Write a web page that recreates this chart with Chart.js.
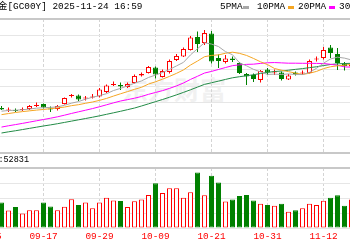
<!DOCTYPE html>
<html>
<head>
<meta charset="utf-8">
<script src="https://cdn.jsdelivr.net/npm/chart.js@4.4.0/dist/chart.umd.min.js"></script>
<style>
body { margin: 0; background: #fff; }
#wrap { position: relative; width: 350px; height: 250px; overflow: hidden; background: #fff; }
#wrap canvas { position: absolute; left: 0; }
.txt { position: absolute; font-family: "Liberation Mono", "Noto Sans CJK SC", monospace; font-size: 9.4px; line-height: 10px; color: #000; white-space: nowrap; }
.sw { position: absolute; width: 6px; height: 3px; top: 6px; }
.wm { position: absolute; left: 122px; top: 70px; font: bold 26px "Noto Sans CJK SC"; color: #f1f1f1; white-space: nowrap; }
</style>
</head>
<body>
<div id="wrap">
  <div class="wm">东方财富</div>
  <canvas id="kline" width="350" height="154" style="top:0"></canvas>
  <canvas id="volume" width="350" height="100" style="top:150px"></canvas>
  <div class="txt" style="left:-11.3px;top:2px">黄金[GC00Y] 2025-11-24 16:59</div>
  <div class="txt" style="left:220px;top:2px">5PMA</div>
  <div class="sw" style="left:243px;background:#a8a8a8"></div>
  <div class="txt" style="left:257px;top:2px">10PMA</div>
  <div class="sw" style="left:288px;background:#f5a623"></div>
  <div class="txt" style="left:298px;top:2px">20PMA</div>
  <div class="sw" style="left:329px;background:#ff00ff"></div>
  <div class="txt" style="left:339px;top:2px">30PMA</div>
  <div class="txt" style="right:321px;top:155px;font-size:8.5px">成交量:52831</div>
</div>
<script>
// daily candles, 09-09 .. 11-18
const dates = ['09-09','09-10','09-11','09-12','09-15','09-16','09-17','09-18','09-19','09-22',
  '09-23','09-24','09-25','09-26','09-29','09-30','10-01','10-02','10-03','10-06',
  '10-07','10-08','10-09','10-10','10-13','10-14','10-15','10-16','10-17','10-20',
  '10-21','10-22','10-23','10-24','10-27','10-28','10-29','10-30','10-31','11-03',
  '11-04','11-05','11-06','11-07','11-10','11-11','11-12','11-13','11-14','11-17','11-18'];

const open = [3676,3653,3658,3658,3667,3695,3713,3672,3667,3713,3787,3792,3764,3774,3783,3824,3889,3889,3871,3908,
  3977,4000,4051,3963,4010,4121,4153,4213,4333,4278,4366,4139,4102,4134,4093,3991,3982,3936,4033,4005,
  4005,3940,4005,3996,4000,4125,4139,4236,4176,4088,4060];
const high = [3695,3681,3672,3681,3704,3727,3718,3690,3704,3774,3806,3801,3787,3806,3861,3894,3922,3912,3912,3986,
  4005,4065,4060,4033,4125,4176,4236,4343,4384,4398,4389,4171,4167,4153,4102,4000,3996,4028,4047,4033,
  4014,3991,4014,4023,4125,4153,4241,4259,4232,4102,4100];
const low = [3658,3639,3639,3649,3658,3686,3672,3639,3653,3709,3774,3741,3746,3764,3774,3815,3880,3843,3861,3903,
  3968,3996,3949,3959,3996,4111,4148,4209,4195,4259,4088,4047,4088,4102,3991,3889,3917,3912,3982,3982,
  3931,3936,3977,3982,3996,4107,4125,4139,4028,4023,4050];
const close = [3662,3662,3649,3667,3695,3704,3681,3662,3695,3769,3797,3755,3774,3783,3848,3885,3898,3875,3898,3973,
  3991,4056,3986,4019,4111,4158,4222,4329,4269,4370,4107,4111,4134,4121,4000,3968,3945,4019,4005,4014,
  3945,3977,3991,4005,4111,4134,4213,4185,4093,4065,4088];

const ma5 = [3647,3653,3656,3660,3667,3675,3679,3682,3687,3702,3721,3736,3758,3776,3791,3809,3838,3858,3881,3906,
  3927,3959,3981,4005,4033,4066,4099,4168,4225,4280,4268,4245,4198,4169,4095,4067,4034,4011,3987,3990,
  3986,3992,3986,3986,4006,4044,4091,4130,4147,4138,4121];
const ma10 = [3615,3625,3635,3643,3650,3657,3663,3670,3677,3685,3698,3707,3720,3732,3747,3765,3787,3808,3828,3849,
  3868,3898,3919,3943,3969,3997,4029,4074,4111,4151,4163,4168,4183,4193,4182,4163,4135,4104,4078,4042,
  4026,4013,3999,3987,3998,4015,4041,4058,4067,4072,4082];
const ma20 = [3500,3512,3523,3534,3546,3558,3570,3582,3595,3610,3626,3641,3656,3671,3688,3706,3724,3741,3754,3767,
  3783,3803,3820,3837,3858,3881,3908,3941,3970,4000,4015,4033,4051,4068,4076,4080,4082,4089,4095,4097,
  4094,4091,4091,4090,4090,4089,4088,4081,4072,4057,4054];
const ma30 = [3445,3456,3466,3477,3488,3499,3510,3520,3531,3543,3555,3567,3579,3591,3604,3618,3632,3646,3661,3676,
  3695,3715,3735,3755,3776,3798,3821,3845,3870,3895,3910,3925,3941,3956,3966,3975,3984,3996,4006,4014,
  4019,4026,4034,4041,4050,4058,4069,4079,4085,4088,4090];

const volume = [169500,116000,140000,97000,119000,119000,170000,144000,119000,141000,
  191000,154000,170000,131000,170000,201000,184000,180000,140000,178000,
  190000,220000,298000,233000,265000,265000,201000,239000,370000,218000,
  349000,303000,176000,190000,214000,220000,184000,161000,154000,148000,
  161000,108000,119000,131000,161000,154000,182000,201000,218000,148000,190000];

// x-axis labels sit on every 8th trading day (index -2 is 09-05, just off the left edge)
const tickIndex = [-2, 6, 14, 22, 30, 38, 46];
const tickLabels = ['09-05', '09-17', '09-29', '10-09', '10-21', '10-31', '11-12'];

const UP = '#ff0000';
const DOWN = '#008000';
const isUp = close.map((c, i) => c >= open[i]);

// 7px per candle, first candle centred at x=1.5
const xMin = -1.5 / 7;
const xMax = xMin + 50;

const xy = (arr) => arr.map((v, i) => ({ x: i, y: v }));

function xScale(showLabels) {
  return {
    type: 'linear',
    min: xMin,
    max: xMax,
    offset: false,
    afterBuildTicks: (scale) => { scale.ticks = tickIndex.map(v => ({ value: v })); },
    afterFit: (scale) => { scale.paddingLeft = 0; scale.paddingRight = 0; },
    ticks: {
      display: showLabels,
      autoSkip: false,
      maxRotation: 0,
      padding: 3,
      color: '#ff0000',
      font: { family: 'Liberation Mono', size: 9.4 },
      callback: (v, i) => tickLabels[i]
    },
    grid: { offset: false, color: '#d4d4d4', lineWidth: 1, drawTicks: false },
    border: { display: false, dash: [3, 2] }
  };
}

function lineSet(label, data, color) {
  return {
    type: 'line', label: label, data: xy(data), borderColor: color, borderWidth: 1,
    pointRadius: 0, fill: false, tension: 0, order: 0
  };
}

new Chart(document.getElementById('kline'), {
  type: 'bar',
  data: {
    datasets: [
      lineSet('5PMA', ma5, '#a8a8a8'),
      lineSet('10PMA', ma10, '#f5a623'),
      lineSet('20PMA', ma20, '#ff00ff'),
      lineSet('30PMA', ma30, '#228b46'),
      {
        label: 'body',
        data: open.map((o, i) => ({ x: i, y: [o, close[i]] })),
        backgroundColor: isUp.map(u => u ? '#ffffff' : DOWN),
        borderColor: isUp.map(u => u ? UP : DOWN),
        borderWidth: 1, barThickness: 5, minBarLength: 1,
        grouped: false, borderSkipped: false, inflateAmount: 0, order: 1
      },
      {
        label: 'wick',
        data: low.map((l, i) => ({ x: i, y: [l, high[i]] })),
        backgroundColor: isUp.map(u => u ? UP : DOWN),
        borderWidth: 0, barThickness: 1,
        grouped: false, inflateAmount: 0, order: 2
      }
    ]
  },
  options: {
    responsive: false,
    animation: false,
    layout: { padding: { top: 19, bottom: 1, left: 0, right: 0 } },
    plugins: { legend: { display: false }, tooltip: { enabled: false } },
    scales: {
      x: xScale(false),
      y: {
        type: 'linear', min: 3260, max: 4500, beginAtZero: false,
        ticks: { display: false, stepSize: 155 },
        grid: {
          drawTicks: false,
          color: (c) => (c.tick && (c.tick.value === 4500 || c.tick.value === 3260)) ? '#c8c8c8' : '#e6e6e6',
          lineWidth: (c) => (c.tick && (c.tick.value === 4500 || c.tick.value === 3260)) ? 2 : 1
        },
        border: { display: false }
      }
    }
  }
});

new Chart(document.getElementById('volume'), {
  type: 'bar',
  data: {
    datasets: [{
      label: 'VOL',
      data: xy(volume),
      backgroundColor: isUp.map(u => u ? '#ffffff' : DOWN),
      borderColor: isUp.map(u => u ? UP : DOWN),
      borderWidth: 1, barThickness: 5,
      grouped: false, borderSkipped: false, inflateAmount: 0
    }]
  },
  options: {
    responsive: false,
    animation: false,
    layout: { padding: { top: 18, bottom: 4.7, left: 0, right: 0 } },
    plugins: { legend: { display: false }, tooltip: { enabled: false } },
    scales: {
      x: xScale(true),
      y: {
        type: 'linear', min: 0, max: 400000,
        ticks: { display: false, stepSize: 100000 },
        grid: {
          drawTicks: false,
          color: (c) => (c.tick && c.tick.value === 400000) ? '#c8c8c8' : '#e6e6e6',
          lineWidth: (c) => (c.tick && c.tick.value === 400000) ? 2 : 1
        },
        border: { display: false }
      }
    }
  }
});
</script>
</body>
</html>
